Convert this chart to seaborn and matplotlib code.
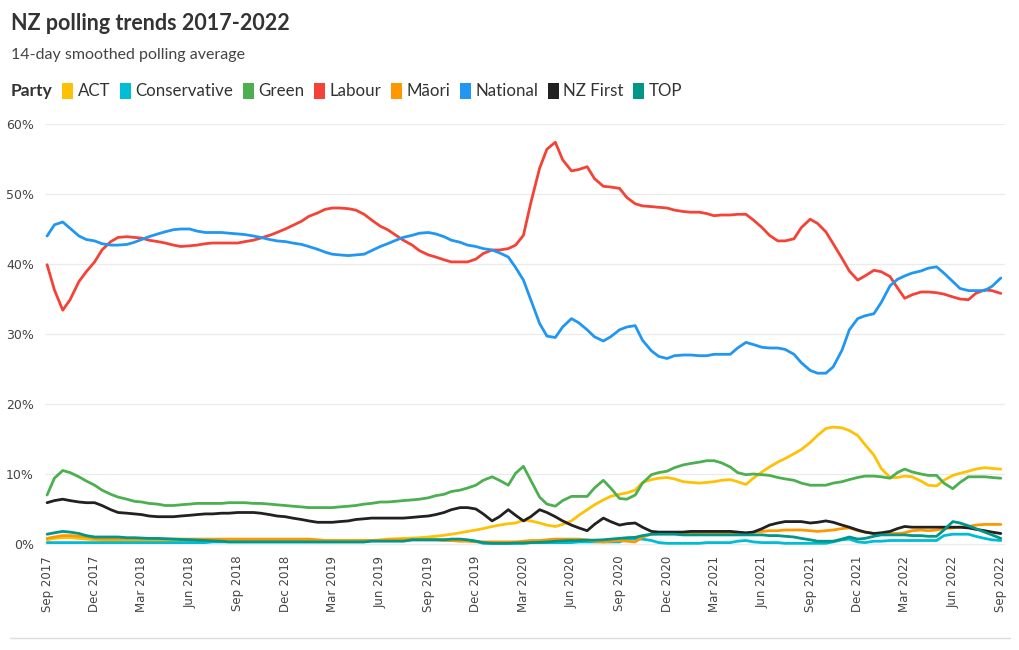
import matplotlib
matplotlib.use("Agg")
import matplotlib.pyplot as plt
import matplotlib.dates as mdates
from matplotlib.patches import Patch
from matplotlib.lines import Line2D
import seaborn as sns
import pandas as pd
import numpy as np

# ---- data (semi-monthly samples, Sep 2017 .. Sep 2022) ----
dates = pd.date_range("2017-09-01", "2022-09-01", freq="SMS")

parties = ["ACT", "Conservative", "Green", "Labour", "Māori", "National", "NZ First", "TOP"]
colors = ["#FFC107", "#00BCD4", "#4CAF50", "#F44336", "#FF9800", "#2196F3", "#212121", "#009688"]

labour = [39.9, 36.3, 33.4, 34.9, 37.5, 38.9, 40.3, 42.0, 43.2, 43.8, 43.9, 43.8, 43.7, 43.4, 43.2, 43.0,
          42.7, 42.5, 42.6, 42.7, 42.9, 43.0, 43.0, 43.0, 43.0, 43.2, 43.4, 43.7, 44.1, 44.5, 45.0, 45.5,
          46.1, 46.8, 47.3, 47.8, 48.0, 48.0, 47.9, 47.7, 47.1, 46.3, 45.4, 44.9, 44.1, 43.4, 42.7, 41.9,
          41.3, 41.0, 40.6, 40.3, 40.3, 40.3, 40.7, 41.5, 42.0, 42.0, 42.2, 42.7, 44.1, 48.7, 53.7, 56.4,
          57.4, 54.9, 53.3, 53.5, 53.9, 52.2, 51.1, 51.0, 50.8, 49.5, 48.6, 48.3, 48.2, 48.1, 48.0, 47.7,
          47.5, 47.4, 47.4, 47.2, 46.9, 47.0, 47.0, 47.1, 47.1, 46.3, 45.2, 44.1, 43.3, 43.3, 43.6, 45.2,
          46.4, 45.8, 44.6, 42.9, 40.8, 39.0, 37.7, 38.3, 39.1, 38.9, 38.2, 36.6, 35.1, 35.6, 36.0, 36.0,
          35.9, 35.7, 35.3, 35.0, 34.9, 35.8, 36.3, 36.2, 35.8]

national = [44.0, 45.6, 46.0, 45.1, 44.0, 43.5, 43.3, 42.9, 42.7, 42.7, 42.8, 43.1, 43.5, 43.9, 44.3, 44.6,
            44.9, 45.0, 45.0, 44.7, 44.5, 44.5, 44.5, 44.4, 44.3, 44.2, 44.0, 43.8, 43.5, 43.3, 43.2, 43.0,
            42.8, 42.5, 42.1, 41.7, 41.4, 41.3, 41.2, 41.3, 41.4, 41.9, 42.5, 42.9, 43.4, 43.8, 44.1, 44.4,
            44.5, 44.3, 43.9, 43.4, 43.1, 42.7, 42.5, 42.2, 42.0, 41.6, 41.0, 39.5, 37.7, 34.9, 31.5, 29.7,
            29.5, 31.0, 32.2, 31.6, 30.6, 29.6, 29.0, 29.6, 30.6, 31.0, 31.2, 29.1, 27.6, 26.8, 26.5, 26.9,
            27.0, 27.0, 26.9, 26.9, 27.1, 27.1, 27.1, 28.0, 28.8, 28.5, 28.1, 28.0, 28.0, 27.8, 27.1, 25.9,
            24.8, 24.4, 24.4, 25.3, 27.7, 30.6, 32.2, 32.6, 32.9, 34.5, 36.9, 37.8, 38.3, 38.7, 39.0, 39.4,
            39.6, 38.7, 37.5, 36.5, 36.2, 36.2, 36.2, 36.8, 38.0]

green = [7.0, 9.4, 10.5, 10.2, 9.6, 9.0, 8.4, 7.7, 7.1, 6.7, 6.4, 6.1, 6.0, 5.8, 5.7, 5.5,
         5.5, 5.6, 5.7, 5.8, 5.8, 5.8, 5.8, 5.9, 5.9, 5.9, 5.8, 5.8, 5.7, 5.6, 5.5, 5.4,
         5.3, 5.2, 5.2, 5.2, 5.2, 5.3, 5.4, 5.5, 5.7, 5.8, 6.0, 6.0, 6.1, 6.2, 6.3, 6.4,
         6.6, 6.9, 7.1, 7.5, 7.7, 8.0, 8.4, 9.1, 9.6, 9.1, 8.4, 10.1, 11.1, 9.1, 6.7, 5.7,
         5.4, 6.2, 6.8, 6.8, 6.8, 8.0, 9.1, 8.0, 6.5, 6.4, 7.0, 8.7, 9.9, 10.2, 10.4, 10.9,
         11.3, 11.5, 11.7, 11.9, 11.9, 11.6, 11.0, 10.2, 9.9, 10.0, 9.9, 9.8, 9.5, 9.3, 9.1, 8.7,
         8.4, 8.4, 8.4, 8.7, 8.9, 9.2, 9.5, 9.7, 9.7, 9.6, 9.4, 10.2, 10.7, 10.3, 10.0, 9.8,
         9.8, 8.7, 7.9, 8.8, 9.6, 9.6, 9.6, 9.5, 9.4]

act = [0.6, 0.8, 0.9, 0.9, 0.8, 0.7, 0.6, 0.5, 0.5, 0.4, 0.4, 0.4, 0.4, 0.4, 0.4, 0.4,
       0.5, 0.5, 0.5, 0.5, 0.5, 0.5, 0.5, 0.5, 0.5, 0.5, 0.5, 0.5, 0.5, 0.5, 0.5, 0.5,
       0.5, 0.5, 0.5, 0.45, 0.45, 0.45, 0.45, 0.5, 0.5, 0.5, 0.6, 0.7, 0.75, 0.8, 0.85, 0.9,
       1.0, 1.1, 1.25, 1.4, 1.6, 1.8, 2.0, 2.2, 2.5, 2.7, 2.9, 3.0, 3.4, 3.3, 3.0, 2.7,
       2.5, 2.8, 3.3, 4.1, 4.9, 5.6, 6.3, 6.8, 7.1, 7.3, 7.7, 8.8, 9.2, 9.4, 9.5, 9.3,
       8.9, 8.8, 8.7, 8.8, 8.9, 9.1, 9.2, 8.9, 8.5, 9.4, 10.3, 11.0, 11.7, 12.2, 12.9, 13.5,
       14.5, 15.5, 16.5, 16.7, 16.6, 16.2, 15.5, 14.2, 12.7, 10.8, 9.5, 9.5, 9.7, 9.6, 9.0, 8.4,
       8.3, 9.1, 9.8, 10.1, 10.4, 10.7, 10.9, 10.8, 10.7]

nz_first = [5.9, 6.2, 6.4, 6.2, 6.0, 5.9, 5.9, 5.5, 4.9, 4.5, 4.4, 4.3, 4.2, 4.0, 3.9, 3.9,
            3.9, 4.0, 4.1, 4.2, 4.3, 4.3, 4.4, 4.4, 4.5, 4.5, 4.5, 4.4, 4.2, 4.0, 3.9, 3.7,
            3.5, 3.3, 3.1, 3.1, 3.1, 3.2, 3.3, 3.5, 3.6, 3.7, 3.7, 3.7, 3.7, 3.7, 3.8, 3.9,
            4.0, 4.2, 4.5, 4.9, 5.2, 5.2, 5.0, 4.3, 3.3, 3.9, 4.9, 4.1, 3.3, 3.9, 4.9, 4.5,
            3.9, 3.3, 2.7, 2.3, 1.9, 2.8, 3.7, 3.2, 2.7, 2.9, 3.0, 2.4, 1.8, 1.7, 1.7, 1.7,
            1.7, 1.8, 1.8, 1.8, 1.8, 1.8, 1.8, 1.7, 1.6, 1.7, 2.2, 2.7, 3.0, 3.2, 3.2, 3.2,
            3.0, 3.1, 3.3, 3.1, 2.7, 2.4, 2.0, 1.7, 1.5, 1.6, 1.8, 2.2, 2.5, 2.4, 2.4, 2.4,
            2.4, 2.4, 2.4, 2.4, 2.3, 2.1, 1.9, 1.7, 1.5]

maori = [0.8, 1.0, 1.2, 1.2, 1.1, 1.0, 0.8, 0.7, 0.7, 0.7, 0.7, 0.7, 0.7, 0.7, 0.7, 0.7,
         0.7, 0.7, 0.7, 0.7, 0.7, 0.7, 0.7, 0.7, 0.7, 0.7, 0.7, 0.7, 0.7, 0.7, 0.7, 0.7,
         0.7, 0.7, 0.6, 0.5, 0.5, 0.5, 0.5, 0.5, 0.5, 0.5, 0.5, 0.6, 0.6, 0.6, 0.6, 0.6,
         0.6, 0.6, 0.5, 0.5, 0.4, 0.4, 0.3, 0.3, 0.3, 0.3, 0.3, 0.3, 0.4, 0.5, 0.5, 0.6,
         0.7, 0.7, 0.7, 0.7, 0.6, 0.4, 0.3, 0.4, 0.5, 0.4, 0.3, 1.0, 1.4, 1.5, 1.5, 1.5,
         1.6, 1.6, 1.6, 1.6, 1.6, 1.6, 1.6, 1.6, 1.5, 1.7, 1.8, 1.9, 1.9, 2.0, 2.0, 2.0,
         1.9, 1.8, 1.9, 2.0, 2.2, 2.3, 1.9, 1.7, 1.5, 1.4, 1.5, 1.5, 1.6, 1.9, 2.0, 1.9,
         2.0, 2.2, 2.3, 2.4, 2.5, 2.7, 2.8, 2.8, 2.8]

top = [1.4, 1.6, 1.8, 1.7, 1.5, 1.2, 1.0, 1.0, 1.0, 1.0, 0.9, 0.9, 0.85, 0.8, 0.8, 0.75,
       0.7, 0.65, 0.6, 0.55, 0.5, 0.45, 0.4, 0.3, 0.3, 0.3, 0.3, 0.3, 0.3, 0.3, 0.3, 0.3,
       0.3, 0.3, 0.3, 0.3, 0.3, 0.3, 0.3, 0.3, 0.3, 0.4, 0.4, 0.4, 0.4, 0.4, 0.6, 0.6,
       0.6, 0.6, 0.6, 0.7, 0.7, 0.6, 0.4, 0.2, 0.1, 0.1, 0.1, 0.15, 0.15, 0.2, 0.25, 0.3,
       0.4, 0.45, 0.5, 0.5, 0.55, 0.55, 0.6, 0.7, 0.8, 0.9, 0.95, 1.2, 1.4, 1.4, 1.4, 1.4,
       1.3, 1.3, 1.3, 1.3, 1.3, 1.3, 1.3, 1.3, 1.3, 1.3, 1.3, 1.2, 1.2, 1.1, 1.0, 0.8,
       0.6, 0.4, 0.4, 0.4, 0.7, 1.0, 0.7, 0.8, 1.1, 1.3, 1.3, 1.3, 1.3, 1.2, 1.2, 1.1,
       1.1, 2.0, 3.2, 3.0, 2.6, 2.2, 1.7, 1.3, 0.8]

conservative = [0.2, 0.2, 0.2, 0.2, 0.2, 0.2, 0.2, 0.2, 0.2, 0.2, 0.2, 0.2, 0.2, 0.2, 0.2, 0.2,
                0.2, 0.2, 0.2, 0.2, 0.2, 0.3, 0.3, 0.3, 0.3, 0.3, 0.3, 0.3, 0.3, 0.3, 0.3, 0.3,
                0.3, 0.3, 0.3, 0.3, 0.3, 0.3, 0.3, 0.3, 0.3, 0.5, 0.5, 0.5, 0.5, 0.5, 0.6, 0.6,
                0.6, 0.6, 0.6, 0.5, 0.5, 0.5, 0.4, 0.1, 0.1, 0.1, 0.1, 0.1, 0.1, 0.2, 0.2, 0.2,
                0.2, 0.2, 0.2, 0.3, 0.3, 0.3, 0.3, 0.3, 0.3, 0.7, 0.7, 0.7, 0.5, 0.2, 0.1, 0.1,
                0.1, 0.1, 0.1, 0.2, 0.2, 0.2, 0.2, 0.4, 0.5, 0.3, 0.2, 0.2, 0.2, 0.1, 0.1, 0.1,
                0.1, 0.1, 0.1, 0.3, 0.6, 0.7, 0.3, 0.2, 0.4, 0.4, 0.5, 0.5, 0.5, 0.5, 0.5, 0.5,
                0.5, 1.2, 1.4, 1.4, 1.4, 1.1, 0.8, 0.6, 0.5]

series = {"ACT": act, "Conservative": conservative, "Green": green, "Labour": labour,
          "Māori": maori, "National": national, "NZ First": nz_first, "TOP": top}

df = pd.concat([pd.DataFrame({"Date": dates, "Party": p, "Value": v}) for p, v in series.items()],
               ignore_index=True)

# ---- plot ----
sns.set_theme(style="white")
plt.rcParams["font.family"] = ["DejaVu Sans"]

fig = plt.figure(figsize=(10.2, 6.5), dpi=100)
ax = fig.add_axes([45 / 1020, 1 - 547.5 / 650, 960 / 1020, (547.5 - 124) / 650])

palette = dict(zip(parties, colors))
sns.lineplot(data=df, x="Date", y="Value", hue="Party", hue_order=parties, palette=palette,
             linewidth=2.0, legend=False, ax=ax)
for ln in ax.get_lines():
    ln.set_solid_capstyle("round")
    ln.set_solid_joinstyle("round")

ax.set_ylim(-0.5, 60)
ax.set_yticks([0, 10, 20, 30, 40, 50, 60])
ax.set_yticklabels([f"{t}%" for t in [0, 10, 20, 30, 40, 50, 60]])
ax.set_xlim(pd.Timestamp("2017-09-01") - pd.Timedelta(days=4),
            pd.Timestamp("2022-09-01") + pd.Timedelta(days=8))
ax.xaxis.set_major_locator(mdates.MonthLocator(bymonth=[3, 6, 9, 12]))
ax.xaxis.set_major_formatter(mdates.DateFormatter("%b %Y"))
ax.tick_params(axis="x", labelrotation=90, length=0, pad=6, labelsize=8.5, colors="#444444")
ax.tick_params(axis="y", length=0, pad=8, labelsize=9, colors="#444444")
for lbl in ax.get_xticklabels():
    lbl.set_va("top")
ax.set_xlabel("")
ax.set_ylabel("")
ax.grid(axis="y", color="#ebebeb", linewidth=0.9)
ax.grid(axis="x", visible=False)
for s in ax.spines.values():
    s.set_visible(False)

# titles
fig.text(11 / 1020, 1 - 24 / 650, "NZ polling trends 2017-2022", fontsize=15.5, fontweight="bold",
         family="Lato", color="#333333", va="center", ha="left")
fig.text(11 / 1020, 1 - 55 / 650, "14-day smoothed polling average", fontsize=11.5,
         family="Lato", color="#444444", va="center", ha="left")
fig.text(11 / 1020, 1 - 91 / 650, "Party", fontsize=12.5, fontweight="bold",
         family="Lato", color="#333333", va="center", ha="left")

handles = [Patch(facecolor=c, edgecolor="none") for c in colors]
fig.legend(handles, parties, ncol=8, loc="center left", bbox_to_anchor=(62 / 1020, 1 - 91 / 650),
           frameon=False, handlelength=0.65, handleheight=1.1, handletextpad=0.28,
           columnspacing=0.55, borderaxespad=0, borderpad=0,
           prop={"family": "Lato", "size": 12.2}, labelcolor="#333333")

fig.add_artist(Line2D([10 / 1020, 1010 / 1020], [1 - 638 / 650, 1 - 638 / 650],
                      color="#dddddd", linewidth=1, transform=fig.transFigure))

fig.savefig("out.png", dpi=100, facecolor="white")
